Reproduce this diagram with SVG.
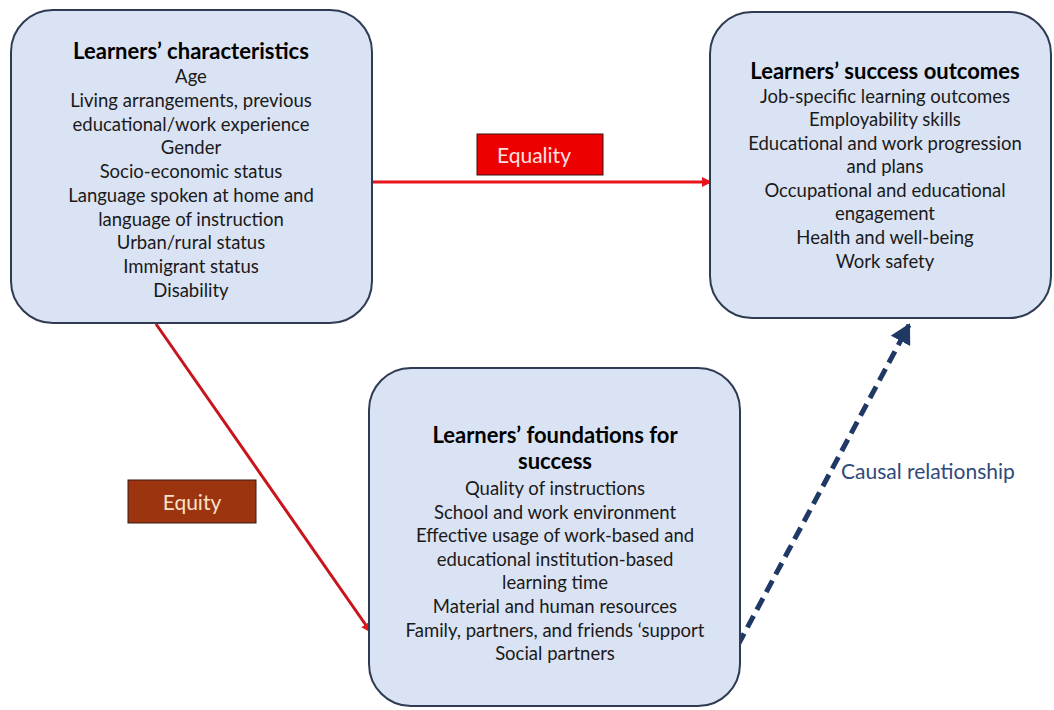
<svg xmlns="http://www.w3.org/2000/svg" width="1054" height="710" viewBox="0 0 1054 710">
<style>
.box{fill:#dae3f3;stroke:#2f3b52;stroke-width:2}
.t{font-family:Lato,"Open Sans",sans-serif;font-size:18.5px;fill:#1a1a1a;text-anchor:middle}
.h{font-weight:bold;font-size:22px;fill:#000}
.lbl{font-family:Lato,"Open Sans",sans-serif;font-size:21px;text-anchor:middle}
</style>
<defs>
<marker id="ar" markerWidth="10" markerHeight="10" refX="8" refY="5" orient="auto" markerUnits="userSpaceOnUse"><path d="M0,0 L10,5 L0,10 z" fill="#e8141b"/></marker>
<marker id="ab" markerWidth="22" markerHeight="22" refX="18" refY="11" orient="auto" markerUnits="userSpaceOnUse"><path d="M0,0 L20,11 L0,22 z" fill="#1f3864"/></marker>
</defs>
<rect width="1054" height="710" fill="#fff"/>
<g id="connectors">
<line x1="372" y1="182" x2="710" y2="182" stroke="#e8141b" stroke-width="3" marker-end="url(#ar)"/>
<line x1="156" y1="324" x2="370" y2="631" stroke="#c8141b" stroke-width="3" marker-end="url(#ar)"/>
<line x1="738" y1="645" x2="909" y2="325" stroke="#1f3864" stroke-width="5" stroke-dasharray="13,7" marker-end="url(#ab)"/>
</g>
<g id="equality">
<rect x="477" y="134" width="126" height="41" fill="#ee0000" stroke="#3a1010" stroke-width="1"/>
<text class="lbl" x="534" y="163" fill="#fde0e0">Equality</text>
</g>
<g id="equity">
<rect x="128" y="480" width="128" height="43" fill="#9c3410" stroke="#3a1a10" stroke-width="1"/>
<text class="lbl" x="192" y="510" fill="#f8e2c8">Equity</text>
</g>
<g id="causal">
<text x="841" y="479" font-family="Lato,'Open Sans',sans-serif" font-size="21" fill="#2e4a7a">Causal relationship</text>
</g>
<g id="characteristics">
<rect class="box" x="11" y="10" width="361" height="313" rx="42"/>
<text class="t" x="191"><tspan class="h" x="191" y="59">Learners’ characteristics</tspan><tspan x="191" y="83">Age</tspan><tspan x="191" y="107">Living arrangements, previous</tspan><tspan x="191" y="131">educational/work experience</tspan><tspan x="191" y="154">Gender</tspan><tspan x="191" y="178">Socio-economic status</tspan><tspan x="191" y="202">Language spoken at home and</tspan><tspan x="191" y="226">language of instruction</tspan><tspan x="191" y="249">Urban/rural status</tspan><tspan x="191" y="273">Immigrant status</tspan><tspan x="191" y="297">Disability</tspan></text>
</g>
<g id="outcomes">
<rect class="box" x="710" y="12" width="341" height="306" rx="42"/>
<text class="t" x="885"><tspan class="h" x="885" y="79">Learners’ success outcomes</tspan><tspan x="885" y="103">Job-specific learning outcomes</tspan><tspan x="885" y="126">Employability skills</tspan><tspan x="885" y="150">Educational and work progression</tspan><tspan x="885" y="173">and plans</tspan><tspan x="885" y="197">Occupational and educational</tspan><tspan x="885" y="220">engagement</tspan><tspan x="885" y="244">Health and well-being</tspan><tspan x="885" y="268">Work safety</tspan></text>
</g>
<g id="foundations">
<rect class="box" x="369" y="368" width="371" height="338" rx="42"/>
<text class="t" x="555"><tspan class="h" x="555" y="443">Learners’ foundations for</tspan><tspan class="h" x="555" y="469">success</tspan><tspan x="555" y="495">Quality of instructions</tspan><tspan x="555" y="519">School and work environment</tspan><tspan x="555" y="542">Effective usage of work-based and</tspan><tspan x="555" y="566">educational institution-based</tspan><tspan x="555" y="589">learning time</tspan><tspan x="555" y="613">Material and human resources</tspan><tspan x="555" y="637">Family, partners, and friends ‘support</tspan><tspan x="555" y="660">Social partners</tspan></text>
</g>
</svg>
